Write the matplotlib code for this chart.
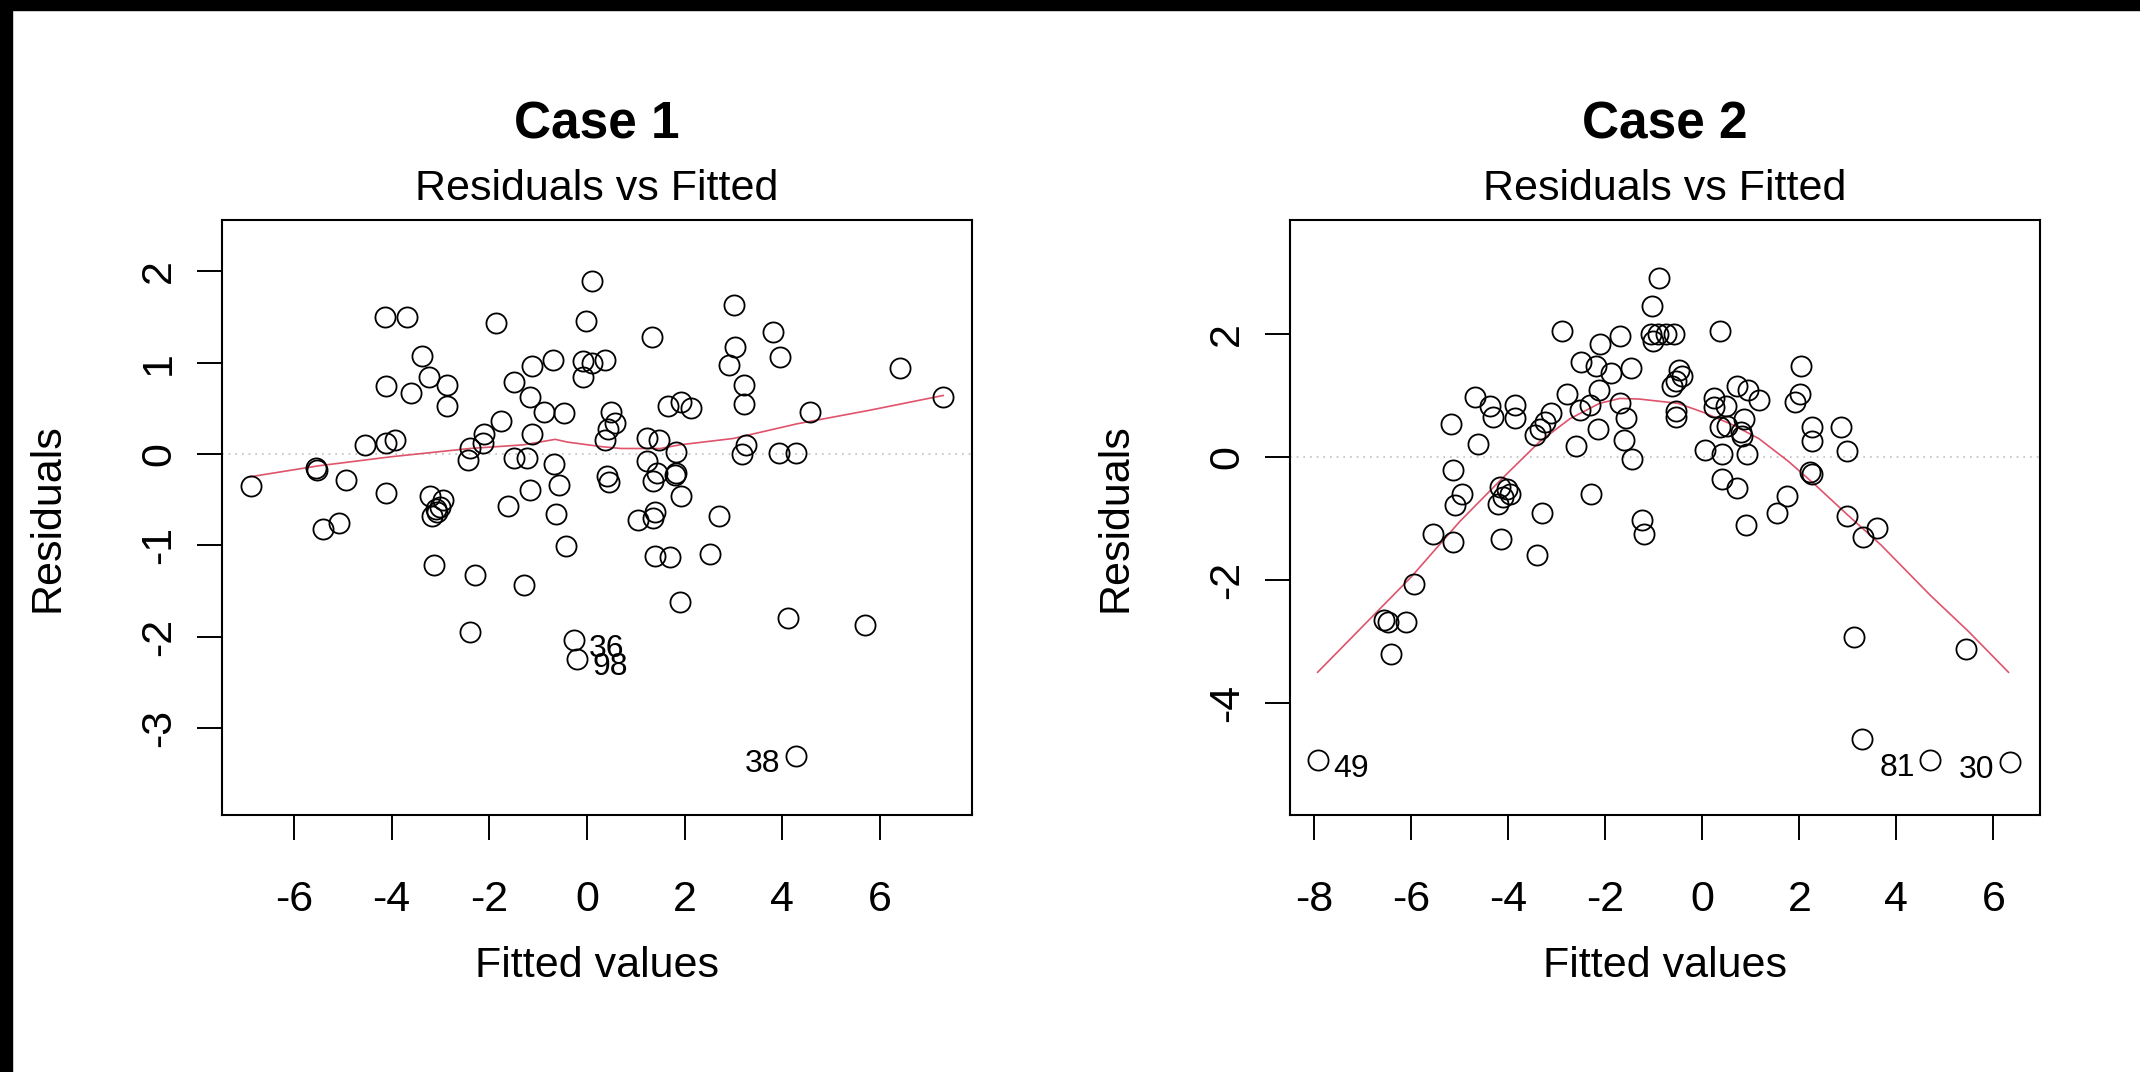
import matplotlib.pyplot as plt
from matplotlib.patches import Rectangle

plt.rcParams['font.family'] = ['Liberation Sans', 'DejaVu Sans']

# ---- Case 1: residuals vs fitted values ----
case1_fitted = [-6.88, -5.55, -5.52, -5.40, -5.07, -4.93, -4.54, -4.13, -3.68, -4.12,
                -4.12, -3.93, -4.12, -3.60, -3.37, -3.24, -2.86, -2.86, -3.21, -2.94,
                -3.17, -3.06, -3.10, -3.00, -3.14, -2.29, -2.39, -2.43, -2.39, -2.12,
                -2.10, -1.77, -1.87, -1.50, -1.12, -1.17, -1.12, -1.50, -1.22, -1.17,
                -1.61, -1.28, -0.89, -0.48, -0.70, -0.68, -0.58, -0.64, -0.43, 0.10,
                -0.03, -0.09, 0.10, 0.36, -0.08, 0.49, 0.57, 0.44, 0.37, 0.41,
                0.45, 1.33, 1.22, 1.47, 1.82, 1.23, 1.43, 1.35, 1.80, 1.83,
                1.92, 1.04, 1.35, 1.39, 1.39, 1.70, 1.90, 1.66, 1.93, 2.13,
                2.52, 2.71, 3.01, 3.03, 2.91, 3.22, 3.22, 3.26, 3.18, 3.81,
                3.95, 3.92, 4.28, 4.12, 4.56, 5.69, 6.40, 7.29, -0.27, -0.21,
                4.27]
case1_resid = [-0.35, -0.15, -0.17, -0.82, -0.75, -0.28, 0.10, 1.50, 1.50, 0.74,
               0.12, 0.15, -0.43, 0.67, 1.07, 0.84, 0.75, 0.52, -0.46, -0.50,
               -0.68, -0.64, -0.60, -0.58, -1.21, -1.32, -1.95, -0.07, 0.06, 0.12,
               0.22, 0.36, 1.43, 0.79, 0.96, 0.62, 0.22, -0.04, -0.04, -0.39,
               -0.57, -1.43, 0.46, 0.45, 1.03, -0.11, -0.34, -0.66, -1.01, 1.89,
               1.45, 1.02, 1.00, 1.03, 0.84, 0.46, 0.34, 0.27, 0.15, -0.24,
               -0.31, 1.28, 0.17, 0.15, 0.02, -0.08, -0.21, -0.30, -0.23, -0.21,
               -0.46, -0.72, -0.70, -0.63, -1.12, -1.13, -1.62, 0.52, 0.57, 0.50,
               -1.09, -0.68, 1.63, 1.17, 0.97, 0.75, 0.55, 0.10, 0.00, 1.33,
               1.06, 0.01, 0.01, -1.80, 0.46, -1.87, 0.94, 0.62, -2.04, -2.24,
               -3.30]
case1_smooth_x = [-6.9, -5.5, -4.0, -2.4, -1.3, -0.65, -0.4, 0.3, 0.7, 1.5, 1.9, 3.0, 4.3, 5.8, 7.29]
case1_smooth_y = [-0.25, -0.13, -0.03, 0.06, 0.10, 0.16, 0.13, 0.08, 0.06, 0.06, 0.10, 0.17, 0.33, 0.48, 0.64]
case1_ids = ['36', '98', '38']
case1_id_x = [-0.27, -0.21, 4.27]
case1_id_y = [-2.04, -2.24, -3.30]

# ---- Case 2: residuals vs fitted values ----
case2_fitted = [-7.93, -6.56, -6.49, -6.10, -6.41, -5.95, -5.55, -5.14, -5.09, -4.96,
                -5.14, -5.18, -4.68, -4.62, -4.38, -4.31, -3.86, -3.86, -4.17, -4.03,
                -4.10, -4.21, -3.97, -4.16, -3.30, -3.41, -3.45, -3.35, -3.25, -3.11,
                -2.89, -2.78, -2.61, -2.53, -2.50, -2.31, -2.19, -2.15, -2.13, -2.12,
                -2.29, -1.88, -1.70, -1.70, -1.57, -1.61, -1.47, -1.44, -1.24, -1.20,
                -1.03, -0.89, -1.06, -0.92, -0.75, -0.58, -1.02, -0.48, -0.41, -0.55,
                -0.62, -0.55, -0.55, 0.36, 0.24, 0.72, 0.95, 1.16, 0.24, 0.48,
                0.85, 0.37, 0.51, 0.82, 0.80, 0.05, 0.40, 0.92, 0.41, 0.71,
                0.90, 1.53, 1.74, 2.04, 2.01, 1.91, 2.25, 2.25, 2.85, 2.99,
                2.22, 2.26, 2.98, 3.31, 3.61, 3.12, 5.44, 3.29, 4.70, 6.34]
case2_resid = [-4.93, -2.65, -2.68, -2.69, -3.21, -2.07, -1.26, -1.38, -0.78, -0.61,
               -0.21, 0.54, 0.98, 0.21, 0.82, 0.65, 0.84, 0.63, -0.49, -0.52,
               -0.65, -0.76, -0.60, -1.34, -0.91, -1.60, 0.35, 0.45, 0.56, 0.71,
               2.05, 1.03, 0.17, 0.76, 1.54, 0.84, 1.48, 0.46, 1.08, 1.83,
               -0.60, 1.37, 1.97, 0.87, 0.63, 0.28, 1.44, -0.04, -1.03, -1.25,
               2.45, 2.90, 1.99, 1.99, 2.00, 2.00, 1.88, 1.42, 1.31, 1.23,
               1.15, 0.74, 0.65, 2.04, 0.96, 1.16, 1.08, 0.92, 0.81, 0.83,
               0.62, 0.48, 0.51, 0.34, 0.40, 0.11, 0.05, 0.05, -0.36, -0.51,
               -1.10, -0.91, -0.64, 1.47, 1.02, 0.89, 0.48, 0.26, 0.49, 0.10,
               -0.25, -0.27, -0.96, -1.30, -1.15, -2.92, -3.12, -4.58, -4.92, -4.96]
case2_smooth_x = [-7.93, -6.0, -5.0, -4.1, -3.35, -2.73, -2.12, -1.7, -1.3, -0.5, 0.0,
                  0.6, 1.16, 1.77, 2.32, 2.99, 3.68, 4.70, 5.49, 6.31]
case2_smooth_y = [-3.50, -1.95, -1.05, -0.33, 0.25, 0.62, 0.87, 0.95, 0.94, 0.87, 0.73,
                  0.53, 0.30, -0.07, -0.45, -0.94, -1.43, -2.25, -2.84, -3.50]
case2_ids = ['49', '81', '30']
case2_id_x = [-7.93, 4.70, 6.34]
case2_id_y = [-4.93, -4.92, -4.96]

FS = 31


def draw_panel(ax, fitted, resid, sx, sy, ids, id_x, id_y, title, xlim, ylim, xticks, yticks):
    ax.axhline(0, color='#bebebe', lw=1.2, ls=(0, (1, 3)), zorder=1)
    ax.plot(fitted, resid, 'o', mfc='none', mec='black', ms=14.5, mew=1.3, zorder=3)
    ax.plot(sx, sy, '-', color='#df536b', lw=1.2, zorder=2)

    # point ids go right of the point on the left half, left of it on the right half
    mid = (min(fitted) + max(fitted)) / 2
    for lab, x, y in zip(ids, id_x, id_y):
        if x > mid:
            ax.annotate(lab, (x, y), xytext=(-11, -6), textcoords='offset points',
                        ha='right', va='center', fontsize=23)
        else:
            ax.annotate(lab, (x, y), xytext=(11, -6), textcoords='offset points',
                        ha='left', va='center', fontsize=23)

    ax.set_xlim(xlim)
    ax.set_ylim(ylim)
    ax.set_xticks(xticks)
    ax.set_yticks(yticks)
    ax.set_xticklabels([str(t) for t in xticks])
    ax.set_yticklabels([str(t) for t in yticks], rotation=90, va='center')
    ax.tick_params(direction='out', length=18, width=1.4, labelsize=FS)
    ax.tick_params(axis='x', pad=29)
    ax.tick_params(axis='y', pad=13)
    for sp in ax.spines.values():
        sp.set_linewidth(1.5)

    ax.set_xlabel('Fitted values', fontsize=FS)
    ax.xaxis.label.set_va('center')
    ax.xaxis.set_label_coords(0.5, -0.254)
    ax.set_ylabel('Residuals', fontsize=FS)
    ax.yaxis.label.set_va('center')
    ax.yaxis.set_label_coords(-0.233, 0.5)

    ax.text(0.5, 1.160, title, transform=ax.transAxes, ha='center', va='center',
            fontsize=37, fontweight='bold')
    ax.text(0.5, 1.052, 'Residuals vs Fitted', transform=ax.transAxes,
            ha='center', va='center', fontsize=FS)


fig = plt.figure(figsize=(21.4, 10.72), dpi=100)
ax1 = fig.add_axes([0.10374, 0.23974, 0.35047, 0.55504])
ax2 = fig.add_axes([0.60280, 0.23974, 0.35047, 0.55504])

draw_panel(ax1, case1_fitted, case1_resid, case1_smooth_x, case1_smooth_y,
           case1_ids, case1_id_x, case1_id_y, 'Case 1',
           (-7.47, 7.88), (-3.95, 2.56), [-6, -4, -2, 0, 2, 4, 6], [-3, -2, -1, 0, 1, 2])
draw_panel(ax2, case2_fitted, case2_resid, case2_smooth_x, case2_smooth_y,
           case2_ids, case2_id_x, case2_id_y, 'Case 2',
           (-8.5, 6.96), (-5.82, 3.85), [-8, -6, -4, -2, 0, 2, 4, 6], [-4, -2, 0, 2])

# black frame strips from the screenshot
fig.patches.append(Rectangle((0, 0), 12 / 2140, 1, transform=fig.transFigure,
                             color='black', zorder=10))
fig.patches.append(Rectangle((0, 1 - 10 / 1072), 1, 10 / 1072, transform=fig.transFigure,
                             color='black', zorder=10))

fig.savefig('out.png', dpi=100)
